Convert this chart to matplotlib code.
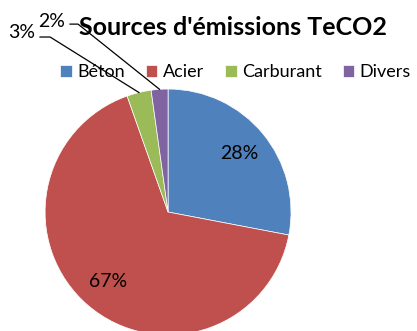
import numpy as np
import matplotlib.pyplot as plt

plt.rcParams['font.family'] = ['Lato', 'DejaVu Sans']

categories = ["Béton", "Acier", "Carburant", "Divers"]
values = [28.0, 66.6, 3.2, 2.2]
pct_labels = ["28%", "67%", "3%", "2%"]
colors = ["#4F81BD", "#C0504D", "#9BBB59", "#8064A2"]

fig = plt.figure(figsize=(4.17, 3.31), dpi=100)
# pie axes: centre ~ (168, 212) px, radius ~123 px
ax = fig.add_axes([0.108, -0.012, 0.59, 0.743])
wedges, _ = ax.pie(values, colors=colors, startangle=90, counterclock=False,
                   radius=1, wedgeprops=dict(edgecolor='white', linewidth=0.5))
ax.set_xlim(-1, 1)
ax.set_ylim(-1, 1)
ax.set_aspect('equal')
ax.axis('off')

# inside labels for the two big slices
for w, lab in zip(wedges[:2], pct_labels[:2]):
    ang = np.deg2rad((w.theta1 + w.theta2) / 2)
    ax.text(0.75 * np.cos(ang), 0.75 * np.sin(ang), lab,
            ha='center', va='center', fontsize=14)

# outside labels with leader lines for the small slices
outside = {2: ((-1.08, 1.459), (-1.041, 1.423), (-0.959, 1.423)),
           3: ((-0.837, 1.553), (-0.797, 1.528), (-0.732, 1.528))}
for i, (txt, p0, p1) in outside.items():
    w = wedges[i]
    ang = np.deg2rad((w.theta1 + w.theta2) / 2)
    ex, ey = np.cos(ang), np.sin(ang)
    ax.plot([p0[0], p1[0], ex], [p0[1], p1[1], ey], color='black',
            linewidth=0.9, clip_on=False)
    ax.text(txt[0], txt[1], pct_labels[i], ha='right', va='center',
            fontsize=14, clip_on=False)

fig.text(0.559, 0.918, "Sources d'émissions TeCO2", ha='center', va='center',
         fontsize=18, fontweight='bold')

fig.legend(wedges, categories, loc='center', bbox_to_anchor=(0.565, 0.782),
           ncol=4, frameon=False, fontsize=13, handlelength=0.65,
           handleheight=0.65, handletextpad=0.3, columnspacing=1.15,
           borderpad=0, borderaxespad=0)

fig.savefig("out.png", dpi=100)
